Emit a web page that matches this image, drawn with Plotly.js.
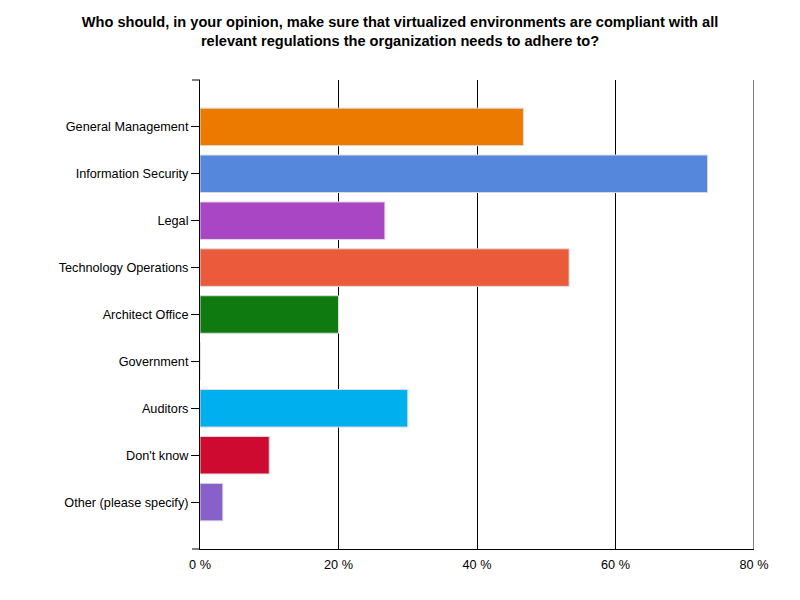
<!DOCTYPE html>
<html>
<head>
<meta charset="utf-8">
<script src="https://cdn.plot.ly/plotly-3.0.1.min.js"></script>
<style>
  html, body { margin: 0; padding: 0; background: #fff; }
  #chart { width: 800px; height: 600px; }
</style>
</head>
<body>
<div id="chart"></div>
<script>
// answers, top to bottom
var categories = [
	'General Management',
	'Information Security',
	'Legal',
	'Technology Operations',
	'Architect Office',
	'Government',
	'Auditors',
	"Don't know",
	'Other (please specify)'
];

// percent of respondents
var percents = [46.7, 73.3, 26.7, 53.3, 20.0, 0, 30.0, 10.0, 3.3];

var barColors = [
	'#ec7a00', '#5587dc', '#a846c4', '#ec5a3c', '#0f7a10',
	'#8a8a8a', '#00b0ee', '#ce0a30', '#8760ca'
];

var tickValues = [0, 20, 40, 60, 80];
var tickLabels = ['0 %', '20 %', '40 %', '60 %', '80 %'];

var trace = {
	type: 'bar',
	orientation: 'h',
	y: categories,
	x: percents,
	width: 0.8,
	marker: {
		color: barColors,
		line: {color: '#dcdcdc', width: 1}
	},
	hoverinfo: 'y+x',
	showlegend: false
};

var xMax = tickValues[tickValues.length - 1];

var layout = {
	width: 800,
	height: 600,
	margin: {l: 200, r: 46, t: 80, b: 51},
	paper_bgcolor: '#fff',
	plot_bgcolor: '#fff',
	font: {family: 'Liberation Sans, Arial, sans-serif', size: 12.7, color: '#000'},
	title: {
		text: 'Who should, in your opinion, make sure that virtualized environments are compliant with all<br>relevant regulations the organization needs to adhere to?',
		font: {family: 'Liberation Sans, Arial, sans-serif', size: 14.6, color: '#000', weight: 'bold'},
		x: 0.5,
		xanchor: 'center',
		y: 0.955,
		yanchor: 'top'
	},
	xaxis: {
		range: [0, xMax],
		tickvals: tickValues,
		ticktext: tickLabels,
		showgrid: true,
		gridcolor: '#000',
		gridwidth: 1,
		zeroline: false,
		showline: true,
		linecolor: '#000',
		linewidth: 1,
		ticks: '',
		ticklabelstandoff: 4,
		fixedrange: true
	},
	yaxis: {
		type: 'category',
		range: [8 + 1, -1],
		showgrid: false,
		zeroline: false,
		showline: true,
		linecolor: '#000',
		linewidth: 1,
		ticks: 'outside',
		ticklen: 8,
		tickcolor: '#000',
		ticklabelstandoff: 0,
		fixedrange: true
	},
	shapes: [
		// last gridline at the right end of the value axis
		{type: 'line', xref: 'x', yref: 'paper', x0: xMax, x1: xMax, y0: 0, y1: 1, line: {color: '#000', width: 1}},
		// small stubs at the top and bottom ends of the category axis
		{type: 'line', xref: 'paper', yref: 'paper', x0: -0.0145, x1: 0, y0: 1, y1: 1, line: {color: '#000', width: 1}},
		{type: 'line', xref: 'paper', yref: 'paper', x0: -0.0145, x1: 0, y0: 0, y1: 0, line: {color: '#000', width: 1}}
	]
};

Plotly.newPlot('chart', [trace], layout, {displayModeBar: false, staticPlot: true});
</script>
</body>
</html>
